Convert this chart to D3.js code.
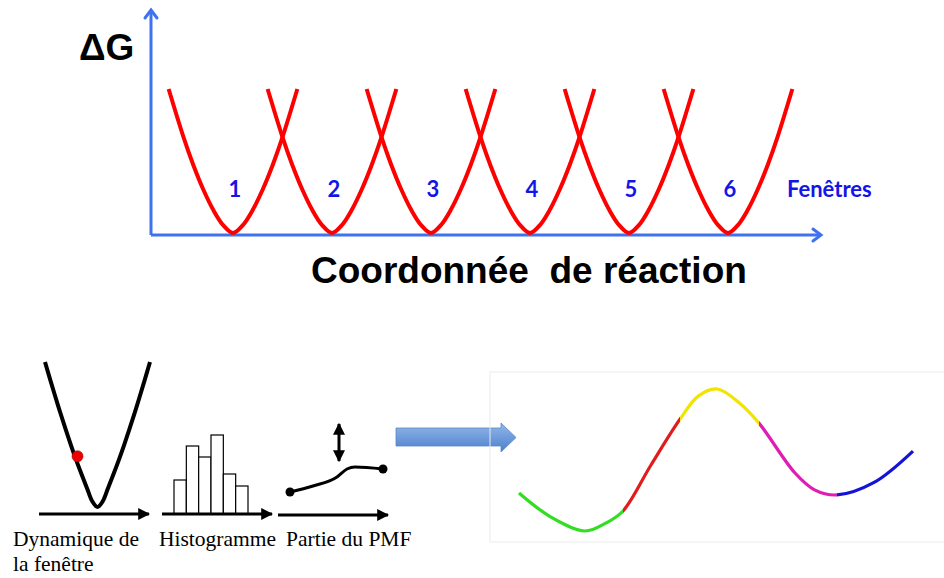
<!DOCTYPE html>
<html>
<head>
<meta charset="utf-8">
<script src="https://cdn.jsdelivr.net/npm/d3@7/dist/d3.min.js"></script>
<style>
  html, body { margin: 0; padding: 0; background: #fff; }
  svg { display: block; }
</style>
</head>
<body>
<svg id="chart" width="944" height="578"></svg>
<script>
// ---------------- DATA ----------------
// Umbrella-sampling windows (reaction coordinate centres)
const windows = [1, 2, 3, 4, 5, 6];
const windowLabels = ["1", "2", "3", "4", "5", "6"];
// Shape of one biasing well: [offset from centre (window units), relative energy]
const wellProfile = [
  [-0.65, 1.0], [-0.5, 0.666], [-0.4, 0.471], [-0.3, 0.302], [-0.2, 0.161], [-0.1, 0.055],
  [0, 0], [0.1, 0.055], [0.2, 0.161], [0.3, 0.302], [0.4, 0.471], [0.5, 0.666], [0.65, 1.0]
];
// Single window dynamics well (offset fraction, relative energy)
const singleWell = [
  [-1, 1], [-0.9, 0.877], [-0.75, 0.698], [-0.6, 0.528], [-0.5, 0.42], [-0.4, 0.318], [-0.3, 0.222],
  [-0.2, 0.13], [-0.1, 0.04], [0, 0], [0.1, 0.04], [0.2, 0.13], [0.3, 0.222], [0.4, 0.318],
  [0.5, 0.42], [0.6, 0.528], [0.75, 0.698], [0.9, 0.877], [1, 1]
];
const particle = [-0.4, 0.35];
// Histogram bar heights
const histValues = [34, 68, 57, 79, 40, 28];
// Partial PMF piece
const pmfPiece = [[0, 0], [23, 6], [47, 15], [57, 23], [65, 25], [93, 23]];
// Full PMF (reaction coordinate 0..100, energy 0..10)
const pmfX = [0, 8, 16.75, 22, 26.4, 33.5, 40.9, 45.5, 50.3, 56, 60.9, 70, 75, 80.7, 90, 100];
const pmfY = [2.68, 1.0, 0, 0.55, 1.41, 4.65, 7.89, 9.5, 10, 9.0, 7.6, 4.1, 2.9, 2.54, 3.4, 5.63];
// Colour of each window portion of the PMF: [start, end, colour]
const pmfSegments = [
  [0, 26.4, "#33dd22"],
  [26.4, 40.9, "#e01c1c"],
  [40.9, 60.9, "#f0e400"],
  [60.9, 80.7, "#e01cb4"],
  [80.7, 100, "#1414d8"]
];

// ---------------- DRAW ----------------
const svg = d3.select("#chart");
const axisBlue = "#3f72ef";

// ===== Top diagram =====
const xTop = d3.scaleLinear().domain([1, 6]).range([233, 728]);
const yTop = d3.scaleLinear().domain([0, 1]).range([233, 89]);

// axes
const ax0 = 151, ay0 = 235;
svg.append("line").attr("x1", ax0).attr("y1", ay0).attr("x2", ax0).attr("y2", 10)
  .attr("stroke", axisBlue).attr("stroke-width", 3);
svg.append("polyline").attr("points", `${ax0-6},${18} ${ax0},${10} ${ax0+6},${18}`)
  .attr("fill", "none").attr("stroke", axisBlue).attr("stroke-width", 3).attr("stroke-linecap", "round");
svg.append("line").attr("x1", ax0).attr("y1", ay0).attr("x2", 821).attr("y2", ay0)
  .attr("stroke", axisBlue).attr("stroke-width", 3);
svg.append("polyline").attr("points", `${813},${ay0-6} ${821},${ay0} ${813},${ay0+6}`)
  .attr("fill", "none").attr("stroke", axisBlue).attr("stroke-width", 3).attr("stroke-linecap", "round");

// wells
const wellLine = d3.line()
  .x(d => xTop(d[0]))
  .y(d => yTop(d[1]))
  .curve(d3.curveCatmullRom);
windows.forEach(c => {
  svg.append("path")
    .attr("d", wellLine(wellProfile.map(p => [c + p[0], p[1]])))
    .attr("fill", "none").attr("stroke", "#ff0000").attr("stroke-width", 4);
});

// labels
svg.selectAll("text.win").data(windows).enter().append("text")
  .attr("class", "win")
  .attr("x", d => xTop(d) + 2).attr("y", 197)
  .attr("text-anchor", "middle")
  .attr("font-family", "Lato, 'Open Sans', sans-serif").attr("font-weight", "bold")
  .attr("font-size", 22).attr("fill", "#1414e6")
  .text((d, i) => windowLabels[i]);
svg.append("text").attr("x", 787).attr("y", 197)
  .attr("font-family", "Lato, 'Open Sans', sans-serif").attr("font-weight", "bold")
  .attr("font-size", 22).attr("fill", "#1414e6").text("Fenêtres");

svg.append("text").attr("x", 79).attr("y", 60)
  .attr("font-family", "'Liberation Sans', Arial, sans-serif").attr("font-weight", "bold")
  .attr("font-size", 37).attr("fill", "#000").text("ΔG");
svg.append("text").attr("x", 311).attr("y", 283)
  .attr("font-family", "'Liberation Sans', Arial, sans-serif").attr("font-weight", "bold")
  .attr("font-size", 37).attr("fill", "#000").attr("xml:space", "preserve")
  .style("white-space", "pre").text("Coordonnée  de réaction");

// ===== Bottom-left pipeline =====
const defs = svg.append("defs");
defs.append("marker").attr("id", "head").attr("viewBox", "0 0 10 10")
  .attr("refX", 9).attr("refY", 5).attr("markerWidth", 4).attr("markerHeight", 4)
  .attr("orient", "auto-start-reverse").attr("markerUnits", "strokeWidth")
  .append("path").attr("d", "M0,0 L10,5 L0,10 z").attr("fill", "#000");

function arrow(x1, y1, x2, y2, both) {
  const l = svg.append("line").attr("x1", x1).attr("y1", y1).attr("x2", x2).attr("y2", y2)
    .attr("stroke", "#000").attr("stroke-width", 3).attr("marker-end", "url(#head)");
  if (both) l.attr("marker-start", "url(#head)");
}

// single window well
const xw = d3.scaleLinear().domain([-1, 1]).range([45, 150]);
const yw = d3.scaleLinear().domain([0, 1]).range([507, 362]);
svg.append("path")
  .attr("d", d3.line().x(d => xw(d[0])).y(d => yw(d[1])).curve(d3.curveCatmullRom)(singleWell))
  .attr("fill", "none").attr("stroke", "#000").attr("stroke-width", 4);
svg.append("circle").attr("cx", xw(particle[0]) + 1).attr("cy", yw(particle[1])).attr("r", 5.5)
  .attr("fill", "#ee0000").attr("stroke", "#900").attr("stroke-width", 0.6);
arrow(39, 514, 149, 514);

// histogram
const xh = d3.scaleBand().domain(d3.range(histValues.length)).range([174, 248]).padding(0);
const yh = d3.scaleLinear().domain([0, 80]).range([514, 434]);
svg.selectAll("rect.h").data(histValues).enter().append("rect")
  .attr("class", "h")
  .attr("x", (d, i) => xh(i)).attr("y", d => yh(d))
  .attr("width", xh.bandwidth()).attr("height", d => yh(0) - yh(d))
  .attr("fill", "#fff").attr("stroke", "#000").attr("stroke-width", 1.2);
arrow(162, 514, 272, 514);

// PMF piece
const xp = d3.scaleLinear().domain([0, 93]).range([290, 383]);
const yp = d3.scaleLinear().domain([0, 25]).range([492, 467]);
svg.append("path")
  .attr("d", d3.line().x(d => xp(d[0])).y(d => yp(d[1])).curve(d3.curveMonotoneX)(pmfPiece))
  .attr("fill", "none").attr("stroke", "#000").attr("stroke-width", 3);
[pmfPiece[0], pmfPiece[pmfPiece.length - 1]].forEach(d => {
  svg.append("circle").attr("cx", xp(d[0])).attr("cy", yp(d[1])).attr("r", 4.5).attr("fill", "#000");
});
arrow(278, 515, 388, 515);
arrow(339, 424, 339, 461, true);

svg.append("g").attr("font-family", "'Liberation Serif', 'Times New Roman', serif")
  .attr("font-size", 21.5).attr("fill", "#000")
  .selectAll("text").data([
    ["Dynamique de", 13, 546], ["la fenêtre", 13, 571],
    ["Histogramme", 159, 546], ["Partie du PMF", 286, 546]
  ]).enter().append("text")
  .attr("x", d => d[1]).attr("y", d => d[2]).text(d => d[0]);

// block arrow
const grad = defs.append("linearGradient").attr("id", "barrow").attr("x1", 0).attr("y1", 0).attr("x2", 0).attr("y2", 1);
grad.append("stop").attr("offset", "0%").attr("stop-color", "#93b8ea");
grad.append("stop").attr("offset", "100%").attr("stop-color", "#4c7fcb");
svg.append("path")
  .attr("d", "M396,428 L501,428 L501,423 L516,437.5 L501,452 L501,446 L396,446 Z")
  .attr("fill", "url(#barrow)").attr("stroke", "#5a86c6").attr("stroke-width", 0.8);

// ===== Right panel: full PMF =====
svg.append("rect").attr("x", 490).attr("y", 372).attr("width", 470).attr("height", 170)
  .attr("fill", "none").attr("stroke", "#ececec").attr("stroke-width", 1);

const xr = d3.scaleLinear().domain([0, 100]).range([519, 913]);
const yr = d3.scaleLinear().domain([0, 10]).range([531, 389]);
const pmfPts = pmfX.map((x, i) => [x, pmfY[i]]);
const pmfPath = d3.line().x(d => xr(d[0])).y(d => yr(d[1])).curve(d3.curveCatmullRom.alpha(0.5))(pmfPts);

pmfSegments.forEach((s, i) => {
  const id = "clipSeg" + i;
  defs.append("clipPath").attr("id", id).append("rect")
    .attr("x", xr(s[0]) - (i === 0 ? 5 : 0)).attr("y", 360)
    .attr("width", xr(s[1]) - xr(s[0]) + (i === 0 || i === pmfSegments.length - 1 ? 5 : 0))
    .attr("height", 200);
  svg.append("path").attr("d", pmfPath).attr("clip-path", `url(#${id})`)
    .attr("fill", "none").attr("stroke", s[2]).attr("stroke-width", 3.2);
});
</script>
</body>
</html>
